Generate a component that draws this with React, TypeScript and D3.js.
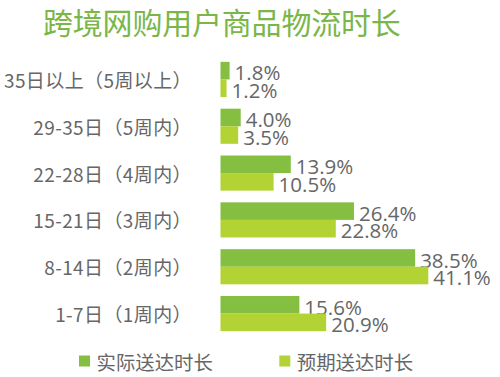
import React from "react";
import * as d3 from "d3";

const categories = ["35日以上（5周以上）", "29-35日（5周内）", "22-28日（4周内）", "15-21日（3周内）", "8-14日（2周内）", "1-7日（1周内）"];
const actual = [1.8, 4.0, 13.9, 26.4, 38.5, 15.6];
const expected = [1.2, 3.5, 10.5, 22.8, 41.1, 20.9];
const seriesNames = ["实际送达时长", "预期送达时长"];
const title = "跨境网购用户商品物流时长";

const W = 500, H = 377;
const colors = ["#84bf41", "#b3d233"];
const cjk = "'Noto Sans CJK SC', 'Noto Sans', sans-serif";

export default function App() {
  const y = d3.scaleBand<string>().domain(categories).range([56, 337]).paddingInner(0.25).paddingOuter(0.125);
  const x = d3.scaleLinear().domain([0, 41.1]).range([220.5, 428.3]);
  const sub = d3.scaleBand<number>().domain([0, 1]).range([0, y.bandwidth()]);
  const series = [actual, expected];
  return (
    <svg width={W} height={H} style={{ position: "absolute", left: 0, top: 0, background: "#fff" }}>
      <text x={43} y={34} fill="#7ab648" fontSize={30} fontFamily={cjk} style={{ letterSpacing: "-0.2px" }}>{title}</text>
      {categories.map((c, i) => (
        <g key={c}>
          <text x={192} y={(y(c) as number) + y.bandwidth() / 2} textAnchor="end" dominantBaseline="central" fill="#666" fontSize={19} fontFamily={cjk} style={{ letterSpacing: "0.4px" }}>{c}</text>
          {series.map((s, j) => {
            const y0 = (y(c) as number) + (sub(j) as number);
            return (
              <g key={j}>
                <rect x={x(0)} y={y0} width={x(s[i]) - x(0)} height={sub.bandwidth()} fill={colors[j]} />
                <text x={x(s[i]) + 5} y={y0 + sub.bandwidth() + 1} fill="#666" fontSize={20.5} fontFamily="'Open Sans', sans-serif">{s[i].toFixed(1)}%</text>
              </g>
            );
          })}
        </g>
      ))}
      {seriesNames.map((n, j) => (
        <g key={n} transform={`translate(${79 + j * 200.3},0)`}>
          <rect x={0} y={355.5} width={11} height={11} fill={colors[j]} />
          <text x={17.5} y={361.5} dominantBaseline="central" fill="#666" fontSize={19.4} fontFamily={cjk}>{n}</text>
        </g>
      ))}
    </svg>
  );
}
